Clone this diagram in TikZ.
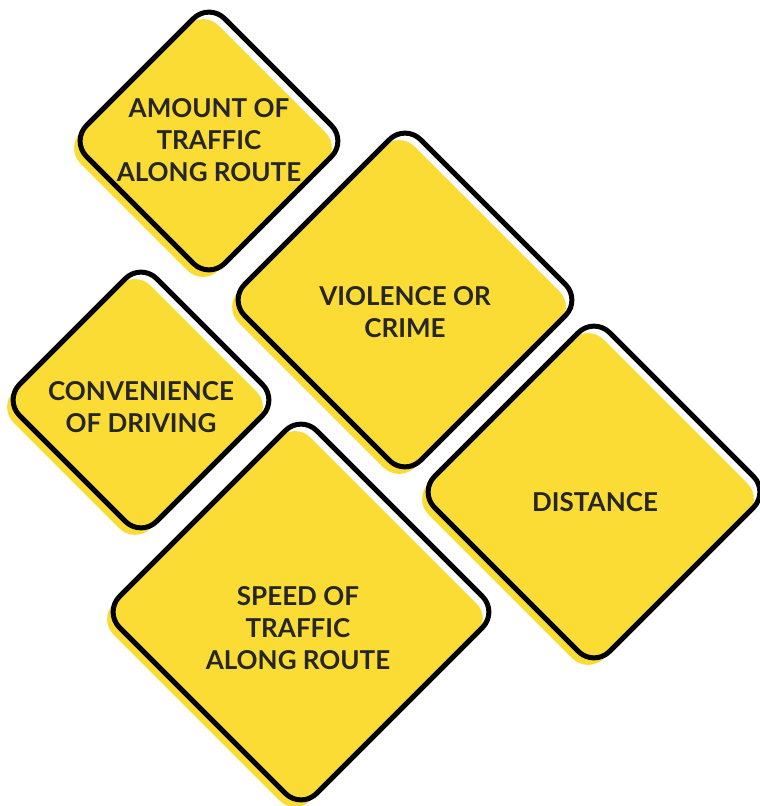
\documentclass[tikz,border=0pt]{standalone}
\usepackage{fontspec}
\setmainfont{Lato}
\definecolor{signyellow}{HTML}{FADC35}
\definecolor{inkc}{HTML}{262626}
\newcommand\roadsign[3]{%
  \fill[signfill] (#1-6,#2+7-#3) -- (#1-6+#3,#2+7) -- (#1-6,#2+7+#3) -- (#1-6-#3,#2+7) -- cycle;
  \draw[signline] (#1,#2-#3) -- (#1+#3,#2) -- (#1,#2+#3) -- (#1-#3,#2) -- cycle;}
\begin{document}
\begin{tikzpicture}[x=1pt,y=-1pt,
  signfill/.style={fill=signyellow, rounded corners=22pt},
  signline/.style={draw=black, line width=5pt, rounded corners=22pt, line join=round},
  signtext/.style={font=\fontsize{26}{32}\selectfont\bfseries, text=inkc, align=center, inner sep=0pt}]
\useasboundingbox (0,0) rectangle (760,806);
\roadsign{209}{141}{138}
\roadsign{405}{300}{176}
\roadsign{141}{400}{137}
\roadsign{594}{492}{175}
\roadsign{301}{612}{197}
\node[signtext] (amount) at (209,140) {AMOUNT OF\\TRAFFIC\\ALONG ROUTE};
\node[signtext] (violence) at (405,312) {VIOLENCE OR\\CRIME};
\node[signtext] (convenience) at (141,407) {CONVENIENCE\\OF DRIVING};
\node[signtext] (distance) at (595,502) {DISTANCE};
\node[signtext] (speed) at (298,628) {SPEED OF\\TRAFFIC\\ALONG ROUTE};
\end{tikzpicture}
\end{document}
